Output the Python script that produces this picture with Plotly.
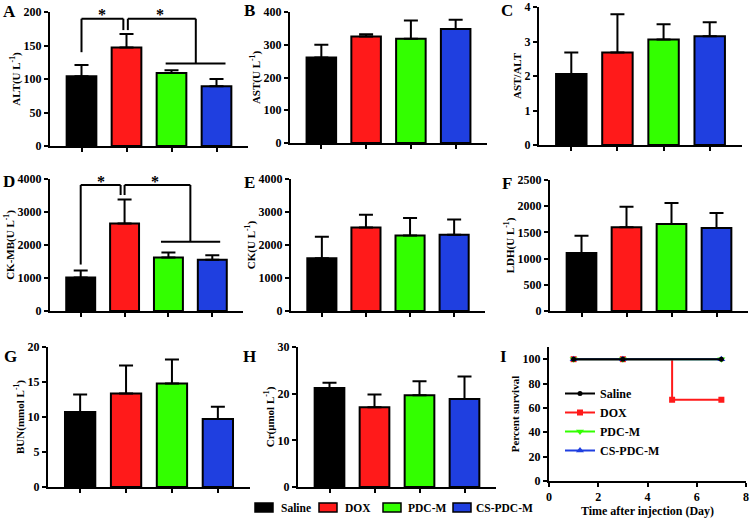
import plotly.graph_objects as go

W, H = 751, 518
FONT = "Liberation Serif"

groups = ["Saline", "DOX", "PDC-M", "CS-PDC-M"]
colors = ["#000000", "#FF1A1A", "#33FF00", "#1F3FE0"]

# Panel data (mean, SD)
alt_mean = [104, 147, 109, 89]
alt_sd = [17, 20, 4, 11]
ast_mean = [261, 325, 318, 348]
ast_sd = [39, 7, 56, 28]
ratio_mean = [2.06, 2.68, 3.06, 3.15]
ratio_sd = [0.62, 1.11, 0.44, 0.41]
ckmb_mean = [1013, 2650, 1620, 1550]
ckmb_sd = [212, 730, 152, 142]
ck_mean = [1600, 2532, 2290, 2310]
ck_sd = [648, 384, 525, 465]
ldh_mean = [1107, 1597, 1660, 1584]
ldh_sd = [331, 394, 401, 286]
bun_mean = [10.7, 13.35, 14.78, 9.71]
bun_sd = [2.5, 4.02, 3.45, 1.77]
cr_mean = [21.2, 17.07, 19.64, 18.86]
cr_sd = [1.16, 2.73, 3.0, 4.84]

# Survival data
saline_days = [1, 3, 7]
saline_surv = [100, 100, 100]
dox_days = [1, 3, 5, 7]
dox_surv = [100, 100, 66.7, 66.7]
pdcm_days = [1, 3, 7]
pdcm_surv = [100, 100, 100]
cspdcm_days = [1, 3, 7]
cspdcm_surv = [100, 100, 100]


def dx(l, r):
    return [l / W, r / W]


def dy(t, b):
    return [(H - b) / H, (H - t) / H]


panels = [
    # letter, title, mean, sd, ymax, dtick, xdom, ydom, letter pos
    ("A", "ALT(U L<sup>-1</sup>)", alt_mean, alt_sd, 200, 50, (50, 248), (12, 146), (9, 12)),
    ("B", "AST(U L<sup>-1</sup>)", ast_mean, ast_sd, 400, 100, (290, 487), (12, 143), (249, 11)),
    ("C", "AST/ALT", ratio_mean, ratio_sd, 4, 1, (539, 742), (7, 145), (507, 11)),
    ("D", "CK-MB(U L<sup>-1</sup>)", ckmb_mean, ckmb_sd, 4000, 1000, (50, 243), (179, 311), (9, 182)),
    ("E", "CK(U L<sup>-1</sup>)", ck_mean, ck_sd, 4000, 1000, (291, 485), (179, 311), (249, 183)),
    ("F", "LDH(U L<sup>-1</sup>)", ldh_mean, ldh_sd, 2500, 500, (550, 748), (180, 311), (507, 184)),
    ("G", "BUN(mmol L<sup>-1</sup>)", bun_mean, bun_sd, 20, 5, (48, 250), (347, 487), (10, 356)),
    ("H", "Cr(μmol L<sup>-1</sup>)", cr_mean, cr_sd, 30, 10, (298, 496), (347, 487), (249, 356)),
]

fig = go.Figure()
layout = dict(
    template="none",
    width=W, height=H, margin=dict(l=0, r=0, t=0, b=0, pad=0),
    paper_bgcolor="white", plot_bgcolor="white",
    barmode="overlay", font=dict(family=FONT, size=11, color="black", weight="bold"),
    shapes=[], annotations=[], showlegend=True,
)

axis_common = dict(showline=True, linecolor="black", linewidth=2, ticks="outside",
                   ticklen=4, tickwidth=2, tickcolor="black", showgrid=False, zeroline=False,
                   automargin=False,
                   tickfont=dict(family=FONT, size=12, color="black", weight="bold"))

TITLE_FONT = dict(family=FONT, size=11, color="black", weight="bold")

for i, (letter, title, mean, sd, ymax, dt, xd, yd, lp) in enumerate(panels):
    n = i + 1
    xa = "x" if n == 1 else f"x{n}"
    ya = "y" if n == 1 else f"y{n}"
    for g, c, m, s in zip(groups, colors, mean, sd):
        fig.add_trace(go.Bar(
            x=[g], y=[m], xaxis=xa, yaxis=ya, width=0.66,
            marker=dict(color=c, line=dict(color="black", width=2)),
            error_y=dict(type="data", array=[s], arrayminus=[0], symmetric=False,
                         color="black", thickness=2, width=7),
            name=g, showlegend=False,
        ))
    xkey = "xaxis" if n == 1 else f"xaxis{n}"
    ykey = "yaxis" if n == 1 else f"yaxis{n}"
    layout[xkey] = dict(axis_common, domain=dx(*xd), anchor=ya, range=[-0.7, 3.7],
                        showticklabels=False, type="category")
    layout[ykey] = dict(axis_common, domain=dy(*yd), anchor=xa, range=[0, ymax], dtick=dt,
                        title=dict(text=title, font=TITLE_FONT, standoff=1))
    layout["annotations"].append(dict(text=letter, x=lp[0] / W, y=(H - lp[1]) / H, xref="paper", yref="paper",
                                      showarrow=False, xanchor="center", yanchor="middle",
                                      font=dict(family=FONT, size=17, color="black", weight="bold")))


# Significance brackets (A and D)
def bracket(n, left_top, left_x, mid_l, mid_r, right_x, level, drop, base, hl, hr, star_y):
    xa = "x" if n == 1 else f"x{n}"
    ya = "y" if n == 1 else f"y{n}"
    segs = [
        (left_x, left_top, left_x, level), (left_x, level, mid_l, level), (mid_l, level, mid_l, drop),
        (mid_r, drop, mid_r, level), (mid_r, level, right_x, level), (right_x, level, right_x, base),
        (hl, base, hr, base),
    ]
    for x0, y0, x1, y1 in segs:
        layout["shapes"].append(dict(type="line", xref=xa, yref=ya, x0=x0, y0=y0, x1=x1, y1=y1,
                                     line=dict(color="black", width=2)))
    for sx in [(left_x + mid_l) / 2, (mid_r + right_x) / 2 - 0.05]:
        layout["annotations"].append(dict(text="*", x=sx, y=star_y, xref=xa, yref=ya, showarrow=False,
                                          xanchor="center", yanchor="middle",
                                          font=dict(family=FONT, size=16, color="black", weight="bold")))


bracket(1, 140, 0, 0.93, 1.03, 2.54, 190, 173, 123, 1.87, 3.2, 196)
bracket(4, 1408, 0, 0.91, 1.0, 2.5, 3818, 3514, 2096, 1.83, 3.18, 3930)

# Survival panel I
surv = [
    ("DOX", dox_days, dox_surv, colors[1], "square", 6, 2),
    ("PDC-M", pdcm_days, pdcm_surv, colors[2], "triangle-down", 7, 3),
    ("CS-PDC-M", cspdcm_days, cspdcm_surv, colors[3], "triangle-up", 7, 4),
    ("Saline", saline_days, saline_surv, colors[0], "circle", 5, 1),
]
for name, xs, ys, c, sym, sz, rank in surv:
    fig.add_trace(go.Scatter(
        x=xs, y=ys, xaxis="x9", yaxis="y9", mode="lines+markers", line_shape="hv",
        line=dict(color=c, width=2), marker=dict(symbol=sym, size=sz, color=c),
        name=name, legend="legend2", legendrank=rank, showlegend=True,
    ))
layout["xaxis9"] = dict(axis_common, domain=dx(549, 746), anchor="y9", range=[0, 8], dtick=2,
                        title=dict(text="Time after injection (Day)", font=dict(TITLE_FONT, size=12), standoff=4))
layout["yaxis9"] = dict(axis_common, domain=dy(347, 481), anchor="x9", range=[0, 110],
                        tickvals=[0, 20, 40, 60, 80, 100],
                        title=dict(text="Percent survival", font=TITLE_FONT, standoff=1))
layout["annotations"].append(dict(text="I", x=503 / W, y=(H - 356) / H, xref="paper", yref="paper",
                                  showarrow=False, xanchor="center", yanchor="middle",
                                  font=dict(family=FONT, size=17, color="black", weight="bold")))

# Bottom group key (swatches + labels)
key_sq_x = [255, 319, 383, 453]
key_txt_x = [279, 343, 406, 474]
for g, c, sx, tx in zip(groups, colors, key_sq_x, key_txt_x):
    layout["shapes"].append(dict(type="rect", xref="paper", yref="paper",
                                 x0=sx / W, x1=(sx + 18) / W, y0=(H - 512) / H, y1=(H - 503) / H,
                                 fillcolor=c, line=dict(color="black", width=1.5)))
    layout["annotations"].append(dict(text=g, x=tx / W, y=(H - 508) / H, xref="paper", yref="paper",
                                      showarrow=False, xanchor="left", yanchor="middle",
                                      font=dict(family=FONT, size=11.5, color="black", weight="bold")))

layout["legend2"] = dict(x=560 / W, y=(H - 379) / H, xanchor="left", yanchor="top",
                         font=dict(family=FONT, size=12, color="black", weight="bold"),
                         bgcolor="rgba(0,0,0,0)", tracegroupgap=0, borderwidth=0)

fig.update_layout(**layout)
fig.write_html(
    "out.html",
    config={"displayModeBar": False},
    post_script="document.body.style.margin='0';document.body.style.padding='0';document.body.style.overflow='hidden';",
)
